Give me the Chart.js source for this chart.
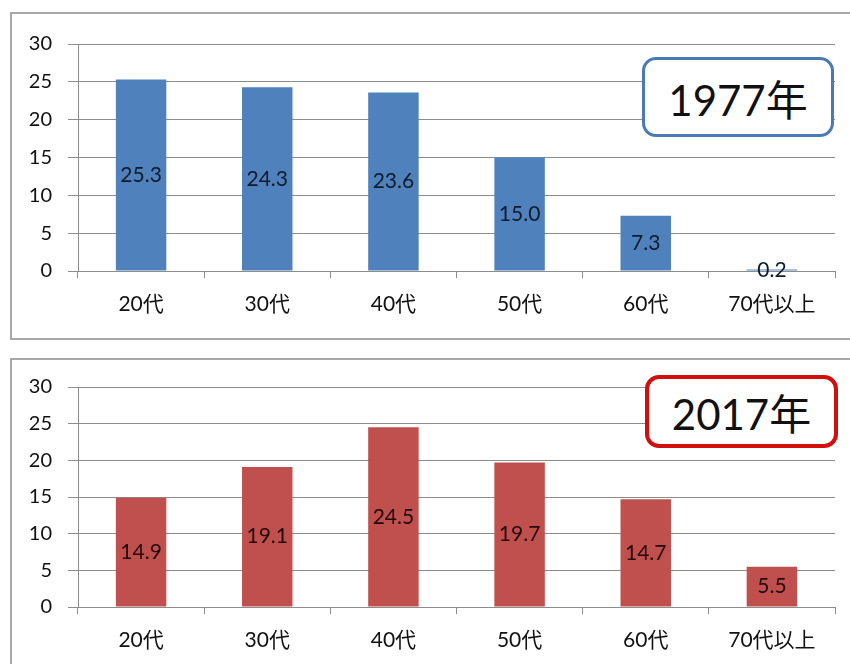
<!DOCTYPE html>
<html>
<head>
<meta charset="utf-8">
<script src="https://cdn.jsdelivr.net/npm/chart.js@4"></script>
<style>
  body { margin: 0; background: #fff; width: 850px; height: 664px; overflow: hidden; position: relative; }
  .frame { position: absolute; left: 10px; width: 860px; border: 2px solid #a8a8a8; box-sizing: border-box; }
  .wrap { position: absolute; left: 0; width: 850px; }
  .year { position: absolute; box-sizing: border-box; border-radius: 14px; background: #fff;
          font-family: 'Lato', 'Noto Sans CJK JP', sans-serif; color: #111;
          display: flex; align-items: center; justify-content: center; }
</style>
</head>
<body>
<div class="frame" style="top:12px;height:328px;"></div>
<div class="frame" style="top:358px;height:320px;"></div>

<div class="wrap" style="top:0;height:338px;"><canvas id="chart1977"></canvas></div>
<div class="wrap" style="top:339px;height:325px;"><canvas id="chart2017"></canvas></div>

<div class="year" style="left:642px;top:57px;width:192px;height:80px;border:3px solid #4a7ab5;font-size:42px;">1977年</div>
<div class="year" style="left:645px;top:375px;width:193px;height:73px;border:4px solid #d40d0d;font-size:42px;">2017年</div>

<script>
var ageGroups = ['20代', '30代', '40代', '50代', '60代', '70代以上'];
var share1977 = [25.3, 24.3, 23.6, 15.0, 7.3, 0.2];
var share2017 = [14.9, 19.1, 24.5, 19.7, 14.7, 5.5];
var yMax = 30;
var yStep = 5;

var fontStack = "'Lato', 'Noto Sans CJK JP', sans-serif";

// write the value in the middle of each bar
var barValues = {
  id: 'barValues',
  afterDatasetsDraw: function (chart, args, opts) {
    var ctx = chart.ctx;
    var meta = chart.getDatasetMeta(0);
    var data = chart.data.datasets[0].data;
    ctx.save();
    ctx.font = '21px ' + fontStack;
    ctx.fillStyle = opts.color;
    ctx.textAlign = 'center';
    ctx.textBaseline = 'middle';
    meta.data.forEach(function (bar, i) {
      ctx.fillText(data[i].toFixed(1), bar.x, (bar.y + bar.base) / 2);
    });
    ctx.restore();
  }
};

function makeChart(id, values, barColor, textColor, topPad, xHeight) {
  return new Chart(document.getElementById(id), {
    type: 'bar',
    data: {
      labels: ageGroups,
      datasets: [{
        data: values,
        backgroundColor: barColor,
        borderWidth: 0,
        barPercentage: 0.4,
        categoryPercentage: 1
      }]
    },
    options: {
      responsive: true,
      maintainAspectRatio: false,
      animation: false,
      layout: { padding: { top: topPad, right: 15, bottom: 0, left: 0 } },
      plugins: {
        legend: { display: false },
        tooltip: { enabled: false },
        barValues: { color: textColor }
      },
      scales: {
        x: {
          grid: { drawOnChartArea: false, drawTicks: true, tickLength: 7, color: '#8c8c8c' },
          border: { display: false },
          ticks: { color: '#111', padding: 14, font: { size: 21, family: fontStack } },
          afterFit: function (scale) { scale.height = xHeight; }
        },
        y: {
          min: 0,
          max: yMax,
          ticks: { stepSize: yStep, color: '#111', padding: 16, font: { size: 20, family: fontStack } },
          grid: { color: '#8c8c8c', tickLength: 10 },
          border: { display: true, color: '#8c8c8c' },
          afterFit: function (scale) { scale.width = 78; }
        }
      }
    },
    plugins: [barValues]
  });
}

var chartOld = makeChart('chart1977', share1977, '#4f81bd', '#111a2a', 44, 67);
var chartNew = makeChart('chart2017', share2017, '#c0504d', '#220808', 48, 57);
</script>
</body>
</html>
